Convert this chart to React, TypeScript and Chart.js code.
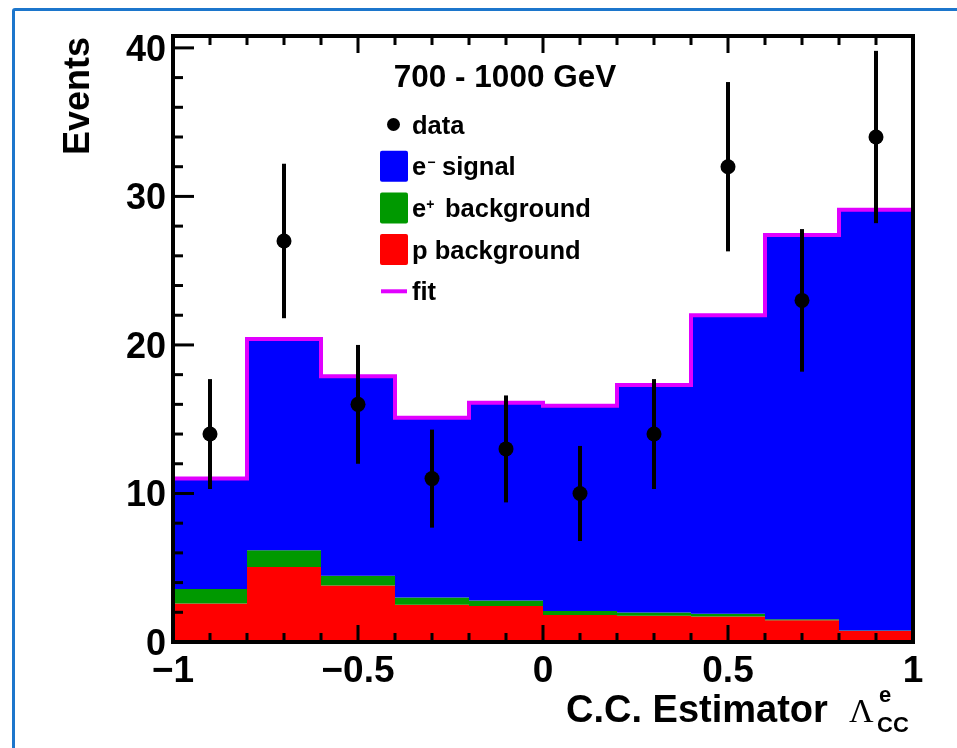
import React, { useEffect, useRef } from "react";
import { Chart, registerables } from "chart.js";

Chart.register(...registerables);

// ---------- data ----------
const binEdges = [-1, -0.8, -0.6, -0.4, -0.2, 0, 0.2, 0.4, 0.6, 0.8, 1];
const binCenters = [-0.9, -0.7, -0.5, -0.3, -0.1, 0.1, 0.3, 0.5, 0.7, 0.9];
const dataCounts = [14, 27, 16, 11, 13, 10, 14, 32, 23, 34];
const dataErrors = [3.7, 5.2, 4.0, 3.3, 3.6, 3.2, 3.7, 5.7, 4.8, 5.8];
const pBackground = [2.6, 5.05, 3.8, 2.5, 2.43, 1.82, 1.76, 1.71, 1.47, 0.74];
const ePlusBackground = [0.96, 1.12, 0.66, 0.5, 0.36, 0.27, 0.22, 0.2, 0.06, 0.03];
const eMinusSignal = [7.44, 14.23, 13.44, 12.1, 13.31, 13.81, 15.32, 20.09, 25.87, 28.34];
const xTickValues = [-1, -0.5, 0, 0.5, 1];
const xTickLabels = ["\u22121", "\u22120.5", "0", "0.5", "1"];
const yTickValues = [0, 10, 20, 30, 40];
const yTickLabels = ["0", "10", "20", "30", "40"];
const titleText = "700 - 1000 GeV";
const yTitle = "Events";
const xTitle = "C.C. Estimator";

// ---------- helpers ----------
const FONT = "'Liberation Sans', Arial, Helvetica, sans-serif";

function stepPoints(vals: number[]) {
  return binEdges.map((x, i) => ({ x, y: vals[Math.min(i, vals.length - 1)] }));
}
function cumulative(...arrs: number[][]) {
  return arrs[0].map((_, i) => arrs.reduce((s, a) => s + a[i], 0));
}

const redTop = cumulative(pBackground);
const greenTop = cumulative(pBackground, ePlusBackground);
const fitTotal = cumulative(pBackground, ePlusBackground, eMinusSignal);

function text(
  ctx: CanvasRenderingContext2D,
  s: string,
  x: number,
  y: number,
  size: number,
  align: CanvasTextAlign = "left",
  weight = "bold",
  family = FONT,
  sx = 1
) {
  ctx.save();
  ctx.font = `${weight} ${size}px ${family}`;
  ctx.textAlign = align;
  ctx.textBaseline = "alphabetic";
  ctx.fillStyle = "#000";
  ctx.translate(x, y);
  ctx.scale(sx, 1);
  ctx.fillText(s, 0, 0);
  const w = ctx.measureText(s).width * sx;
  ctx.restore();
  return w;
}

const decorPlugin = {
  id: "decor",
  afterDatasetsDraw(chart: any) {
    const { ctx } = chart;
    const xs = chart.scales.x;
    const ys = chart.scales.y;
    // error bars
    ctx.save();
    ctx.strokeStyle = "#000";
    ctx.lineWidth = 4;
    binCenters.forEach((c, i) => {
      const px = xs.getPixelForValue(c);
      ctx.beginPath();
      ctx.moveTo(px, ys.getPixelForValue(dataCounts[i] - dataErrors[i]));
      ctx.lineTo(px, ys.getPixelForValue(dataCounts[i] + dataErrors[i]));
      ctx.stroke();
    });
    ctx.restore();
  },
  afterDraw(chart: any) {
    const { ctx, chartArea: a } = chart;
    const xs = chart.scales.x;
    const ys = chart.scales.y;
    ctx.save();
    ctx.strokeStyle = "#000";
    // ticks
    ctx.lineWidth = 3;
    for (let k = 0; k <= 20; k++) {
      const v = -1 + k * 0.1;
      const px = xs.getPixelForValue(v);
      const major = k % 5 === 0;
      const len = major ? 17 : 9;
      ctx.beginPath();
      ctx.moveTo(px, a.bottom);
      ctx.lineTo(px, a.bottom - len);
      ctx.moveTo(px, a.top);
      ctx.lineTo(px, a.top + len);
      ctx.stroke();
    }
    for (let k = 0; k <= 20; k++) {
      const v = k * 2;
      const py = ys.getPixelForValue(v);
      if (py < a.top) continue;
      const major = k % 5 === 0;
      const len = major ? 21 : 10;
      ctx.beginPath();
      ctx.moveTo(a.left, py);
      ctx.lineTo(a.left + len, py);
      ctx.stroke();
    }
    // frame
    ctx.lineWidth = 4;
    ctx.strokeRect(a.left, a.top, a.right - a.left, a.bottom - a.top);
    ctx.restore();

    // tick labels
    xTickValues.forEach((v, i) => {
      text(ctx, xTickLabels[i], xs.getPixelForValue(v), 682, 37, "center");
    });
    yTickValues.forEach((v, i) => {
      text(ctx, yTickLabels[i], 166, ys.getPixelForValue(v) + 13, 36, "right");
    });

    // y title
    ctx.save();
    ctx.translate(89, 37);
    ctx.rotate(-Math.PI / 2);
    text(ctx, yTitle, 0, 0, 36, "right");
    ctx.restore();

    // x title
    text(ctx, xTitle, 566, 722, 38, "left");
    text(ctx, "\u039B", 849, 722, 34, "left", "normal", "'Liberation Serif', 'DejaVu Serif', serif");
    text(ctx, "e", 879, 702, 22, "left");
    text(ctx, "CC", 877, 732, 22, "left");

    // chart title
    text(ctx, titleText, 505, 87, 31.5, "center");

    // legend
    const lx = 380;
    const tx = 412;
    const rows = [124.5, 166.2, 207.9, 249.6, 291.3];
    ctx.save();
    ctx.fillStyle = "#000";
    ctx.beginPath();
    ctx.arc(393.5, rows[0], 6.5, 0, Math.PI * 2);
    ctx.fill();
    const boxColors = ["#0000ff", "#009900", "#ff0000"];
    boxColors.forEach((c, i) => {
      ctx.fillStyle = c;
      ctx.beginPath();
      (ctx as any).roundRect(lx, rows[i + 1] - 15.5, 28, 31, 2);
      ctx.fill();
    });
    ctx.strokeStyle = "#e100ff";
    ctx.lineWidth = 4;
    ctx.beginPath();
    ctx.moveTo(381, rows[4]);
    ctx.lineTo(407, rows[4]);
    ctx.stroke();
    ctx.restore();
    const lf = 25.5;
    text(ctx, "data", tx, rows[0] + 9, lf);
    let w = text(ctx, "e", tx, rows[1] + 9, lf);
    text(ctx, "\u2212", tx + w + 1, rows[1] + 1, 14);
    text(ctx, "signal", 442, rows[1] + 9, lf);
    w = text(ctx, "e", tx, rows[2] + 9, lf);
    text(ctx, "+", tx + w, rows[2] + 1, 14);
    text(ctx, "background", 445, rows[2] + 9, lf);
    text(ctx, "p background", tx, rows[3] + 9, lf);
    text(ctx, "fit", tx, rows[4] + 9, lf);
  },
};

export default function App() {
  const ref = useRef<HTMLCanvasElement>(null);
  useEffect(() => {
    if (!ref.current) return;
    const chart = new Chart(ref.current, {
      type: "line",
      data: {
        datasets: [
          {
            label: "data",
            data: binCenters.map((x, i) => ({ x, y: dataCounts[i] })),
            showLine: false,
            pointRadius: 7.5,
            pointBackgroundColor: "#000",
            pointBorderWidth: 0,
            order: 0,
          } as any,
          {
            label: "fit",
            data: stepPoints(fitTotal),
            stepped: "before",
            borderColor: "#e100ff",
            borderWidth: 4,
            backgroundColor: "#0000ff",
            fill: 2,
            pointRadius: 0,
            order: 1,
          },
          {
            label: "e+ background",
            data: stepPoints(greenTop),
            stepped: "before",
            borderWidth: 0,
            borderColor: "rgba(0,0,0,0)",
            backgroundColor: "#009900",
            fill: 3,
            pointRadius: 0,
            order: 2,
          },
          {
            label: "p background",
            data: stepPoints(redTop),
            stepped: "before",
            borderWidth: 0,
            borderColor: "rgba(0,0,0,0)",
            backgroundColor: "#ff0000",
            fill: "origin",
            pointRadius: 0,
            order: 3,
          },
        ],
      },
      options: {
        animation: false,
        responsive: false,
        maintainAspectRatio: false,
        devicePixelRatio: 1,
        layout: { padding: { left: 173, top: 36, right: 957 - 913, bottom: 748 - 642 } },
        plugins: { legend: { display: false }, tooltip: { enabled: false } },
        scales: {
          x: { type: "linear", min: -1, max: 1, display: false },
          y: { type: "linear", min: 0, max: 40.8, display: false },
        },
      } as any,
      plugins: [decorPlugin],
    });
    return () => chart.destroy();
  }, []);
  return (
    <div
      style={{
        position: "fixed",
        left: 0,
        top: 0,
        width: 957,
        height: 748,
        overflow: "hidden",
        background: "#fff",
      }}
    >
      <canvas ref={ref} width={957} height={748} style={{ position: "absolute", left: 0, top: 0 }} />
      <div
        style={{
          position: "absolute",
          left: 12,
          top: 8,
          width: 1100,
          height: 900,
          border: "3px solid #1c76cc",
          borderRadius: 3,
          boxSizing: "border-box",
        }}
      />
    </div>
  );
}
